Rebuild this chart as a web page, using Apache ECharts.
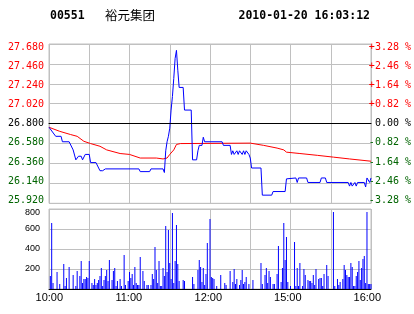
<!DOCTYPE html>
<html>
<head>
<meta charset="utf-8">
<script src="https://cdn.jsdelivr.net/npm/echarts@6/dist/echarts.min.js"></script>
<style>html,body{margin:0;padding:0;background:#fff;}#c{width:414px;height:314px;}</style>
</head>
<body>
<div id="c"></div>
<script>
const stockCode = '00551';
const stockName = '裕元集团';
const stamp = '2010-01-20 16:03:12';
const prevClose = 26.80;
const priceTicks = ['25.920','26.140','26.360','26.580','26.800','27.020','27.240','27.460','27.680'];
const pctTicks = ['-3.28 %','-2.46 %','-1.64 %','-0.82 %',' 0.00 %','+0.82 %','+1.64 %','+2.46 %','+3.28 %'];
const volTicks = ['', '200', '400', '600', '800'];
const timeTicks = ['10:00', '11:00', '12:00', '15:00', '16:00'];

// [minute index from 10:00 (lunch removed), price]
const price = [[0,26.76],[1,26.75],[5,26.66],[9,26.66],[10,26.60],[15,26.60],[18,26.51],[20,26.40],[22,26.44],[23,26.46],
[24,26.44],[25,26.40],[27,26.46],[30,26.46],[31,26.37],[35,26.37],[38,26.28],[39,26.30],[40,26.28],[42,26.30],
[67,26.30],[68,26.27],[75,26.27],[76,26.30],[85,26.30],[86,26.26],[87,26.50],[88,26.60],[89,26.66],[90,26.75],
[91,26.95],[92,27.10],[93,27.30],[94,27.52],[95,27.61],[96,27.39],[97,27.20],[100,27.20],[101,26.95],[106,26.95],
[107,26.40],[110,26.40],[111,26.50],[112,26.56],[114,26.56],[115,26.65],[116,26.60],[129,26.60],[130,26.56],[135,26.56],
[136,26.46],[137,26.50],[138,26.46],[140,26.50],[141,26.46],[142,26.50],[144,26.46],[145,26.50],[146,26.46],[147,26.50],
[149,26.46],[150,26.42],[151,26.31],[158,26.31],[159,26.01],[166,26.01],[167,26.05],[176,26.05],[177,26.19],[178,26.20],
[184,26.20],[185,26.15],[186,26.20],[192,26.20],[193,26.15],[202,26.15],[203,26.20],[206,26.20],[207,26.15],[223,26.15],
[224,26.11],[225,26.15],[226,26.11],[228,26.15],[229,26.11],[230,26.15],[235,26.15],[236,26.10],[237,26.20],[238,26.20],
[239,26.15],[240,26.20]];

const avgPrice = [[0,26.76],[8,26.715],[16,26.68],[21,26.66],[26,26.605],[31,26.58],[38,26.55],[43,26.51],[53,26.47],[60,26.46],
[68,26.42],[80,26.42],[85,26.41],[88,26.42],[90,26.46],[93,26.51],[95,26.57],[98,26.58],[150,26.585],[160,26.56],
[170,26.53],[175,26.51],[177,26.485],[187,26.47],[200,26.45],[212,26.43],[224,26.41],[240,26.385]];

const volume = [[1,130],[2,660],[3,60],[6,170],[8,50],[11,250],[12,30],[13,110],[15,220],[18,140],[20,30],[21,180],
[23,130],[24,280],[25,60],[26,100],[27,100],[28,120],[29,110],[30,280],[32,60],[33,40],[34,100],[35,40],[36,60],[37,90],
[38,130],[39,210],[40,30],[41,90],[42,130],[43,190],[44,80],[45,290],[47,90],[48,180],[49,210],[50,30],[51,80],[53,100],
[54,30],[56,340],[57,40],[59,80],[60,170],[61,110],[62,150],[63,40],[64,220],[65,60],[66,40],[67,40],[68,320],[70,180],
[71,80],[73,40],[74,40],[76,40],[77,150],[78,100],[79,420],[80,190],[81,60],[82,280],[83,30],[84,30],[85,210],[86,130],
[87,630],[88,170],[89,590],[90,260],[91,100],[92,760],[93,60],[94,280],[95,640],[96,250],[97,80],[100,90],[101,80],
[107,120],[108,50],[111,190],[112,290],[113,220],[114,70],[115,210],[116,40],[117,150],[118,460],[120,700],[121,120],
[122,110],[123,100],[125,30],[128,140],[131,60],[132,40],[135,180],[137,70],[138,200],[139,50],[140,100],[142,40],
[143,90],[144,190],[145,50],[146,70],[147,120],[149,50],[152,90],[158,260],[159,50],[161,140],[162,210],[163,60],
[164,180],[165,120],[167,50],[168,50],[170,150],[171,430],[173,70],[174,210],[175,660],[176,290],[177,520],[178,70],
[180,30],[183,470],[184,30],[185,210],[186,30],[187,260],[189,30],[190,200],[191,140],[193,90],[194,80],[195,80],
[196,60],[197,140],[198,40],[199,200],[201,100],[202,110],[203,110],[204,30],[205,150],[207,240],[208,130],[212,770],
[213,30],[215,100],[216,40],[217,70],[219,100],[220,240],[221,190],[222,140],[223,120],[224,120],[225,260],[226,220],
[227,30],[228,30],[229,130],[230,170],[231,280],[232,90],[233,210],[234,300],[235,330],[236,60],[237,770],[238,50],
[239,50],[240,50]];

const GRID = '#C0C0C0';
const RED = '#FF0000', GREEN = '#006400', BLUE = '#0000FF';
const mono = 'DejaVu Sans Mono';
const pctColor = v => v > 0.001 ? RED : (v < -0.001 ? GREEN : '#000000');
const pctIdx = v => Math.round((v + 3.28) / 0.82);
const off = {axisLine: {show: false}, axisTick: {show: false}, axisLabel: {show: false}, splitLine: {show: false}};

const chart = echarts.init(document.getElementById('c'), null, {renderer: 'canvas'});
chart.setOption({
  animation: false,
  backgroundColor: '#fff',
  grid: [
    {left: 49, right: 43, top: 44, height: 159.3, show: true, borderColor: GRID, borderWidth: 1},
    {left: 49, right: 43, top: 209, height: 80, show: true, borderColor: GRID, borderWidth: 1},
    {left: 49, right: 43, top: 47.7, height: 152.3},
    {left: 49.3, width: 318, top: 209, height: 80}
  ],
  xAxis: [
    {gridIndex: 0, type: 'value', min: 0, max: 240, interval: 30,
     axisLine: {show: true, lineStyle: {color: '#000', width: 1}}, axisTick: {show: false}, axisLabel: {show: false},
     splitLine: {show: true, lineStyle: {color: GRID, width: 1}}},
    {gridIndex: 1, type: 'value', min: 0, max: 240, interval: 30,
     axisLine: {show: true, lineStyle: {color: '#000', width: 1}}, axisTick: {show: false}, axisLabel: {show: false},
     splitLine: {show: true, lineStyle: {color: GRID, width: 1}}},
    Object.assign({gridIndex: 2, type: 'value', min: 0, max: 240, interval: 60}, off),
    {gridIndex: 3, type: 'value', min: 0, max: 240, interval: 60,
     axisLine: {show: false}, axisTick: {show: false}, splitLine: {show: false},
     axisLabel: {show: true, margin: 3, color: '#000', fontFamily: 'Liberation Sans', fontSize: 11,
       formatter: v => timeTicks[Math.round(v / 60)]}}
  ],
  yAxis: [
    Object.assign({gridIndex: 0, type: 'value', min: 25.92, max: 27.68}, off),
    {gridIndex: 0, type: 'value', min: -3.28, max: 3.28, interval: 0.82, position: 'right',
     axisLine: {show: false}, axisTick: {show: false}, axisLabel: {show: false},
     splitLine: {show: true, lineStyle: {color: GRID, width: 1}}},
    {gridIndex: 1, type: 'value', min: 0, max: 800, interval: 200,
     axisLine: {show: false}, axisTick: {show: false},
     axisLabel: {show: true, margin: 9, color: '#000', fontFamily: 'Liberation Sans', fontSize: 9,
       formatter: v => {
         const i = Math.round(v / 200);
         return i === volTicks.length - 1 ? '{t|' + volTicks[i] + '}' : volTicks[i];
       },
       rich: {t: {fontFamily: 'Liberation Sans', fontSize: 9, color: '#000', padding: [8, 0, 0, 0]}}},
     splitLine: {show: true, lineStyle: {color: GRID, width: 1}}},
    {gridIndex: 2, type: 'value', min: -3.28, max: 3.28, interval: 0.82, position: 'left',
     axisLine: {show: false}, axisTick: {show: false}, splitLine: {show: false},
     axisLabel: {show: true, margin: 5, fontFamily: mono, fontSize: 10,
       color: v => pctColor(v), formatter: v => priceTicks[pctIdx(v)]}},
    {gridIndex: 2, type: 'value', min: -3.28, max: 3.28, interval: 0.82, position: 'right',
     axisLine: {show: false}, axisTick: {show: false}, splitLine: {show: false},
     axisLabel: {show: true, margin: 1, fontFamily: mono, fontSize: 10,
       color: v => pctColor(v), formatter: v => pctTicks[pctIdx(v)]}},
    Object.assign({gridIndex: 3, type: 'value', min: 0, max: 800}, off)
  ],
  graphic: [
    {type: 'text', x: 50, y: 16.5, style: {text: stockCode, font: 'bold 11.5px "DejaVu Sans Mono"', fill: '#000', align: 'left', verticalAlign: 'middle'}},
    {type: 'text', x: 105, y: 15.5, style: {text: stockName, font: '12.5px "Noto Sans CJK SC"', fill: '#000', align: 'left', verticalAlign: 'middle'}},
    {type: 'text', x: 370, y: 16.5, style: {text: stamp, font: 'bold 11.5px "DejaVu Sans Mono"', fill: '#000', align: 'right', verticalAlign: 'middle'}}
  ],
  series: [
    {type: 'line', xAxisIndex: 0, yAxisIndex: 0, data: avgPrice, symbol: 'none', silent: true,
     lineStyle: {color: RED, width: 1}, z: 3},
    {type: 'line', xAxisIndex: 0, yAxisIndex: 0, data: price, symbol: 'none', silent: true,
     lineStyle: {color: BLUE, width: 1}, z: 4,
     markLine: {silent: true, symbol: ['none', 'none'], label: {show: false},
       lineStyle: {color: '#000', type: 'solid', width: 1}, data: [{yAxis: prevClose}]}},
    {type: 'bar', xAxisIndex: 1, yAxisIndex: 2, data: volume, barWidth: 1, silent: true,
     itemStyle: {color: BLUE}}
  ]
});
</script>
</body>
</html>
